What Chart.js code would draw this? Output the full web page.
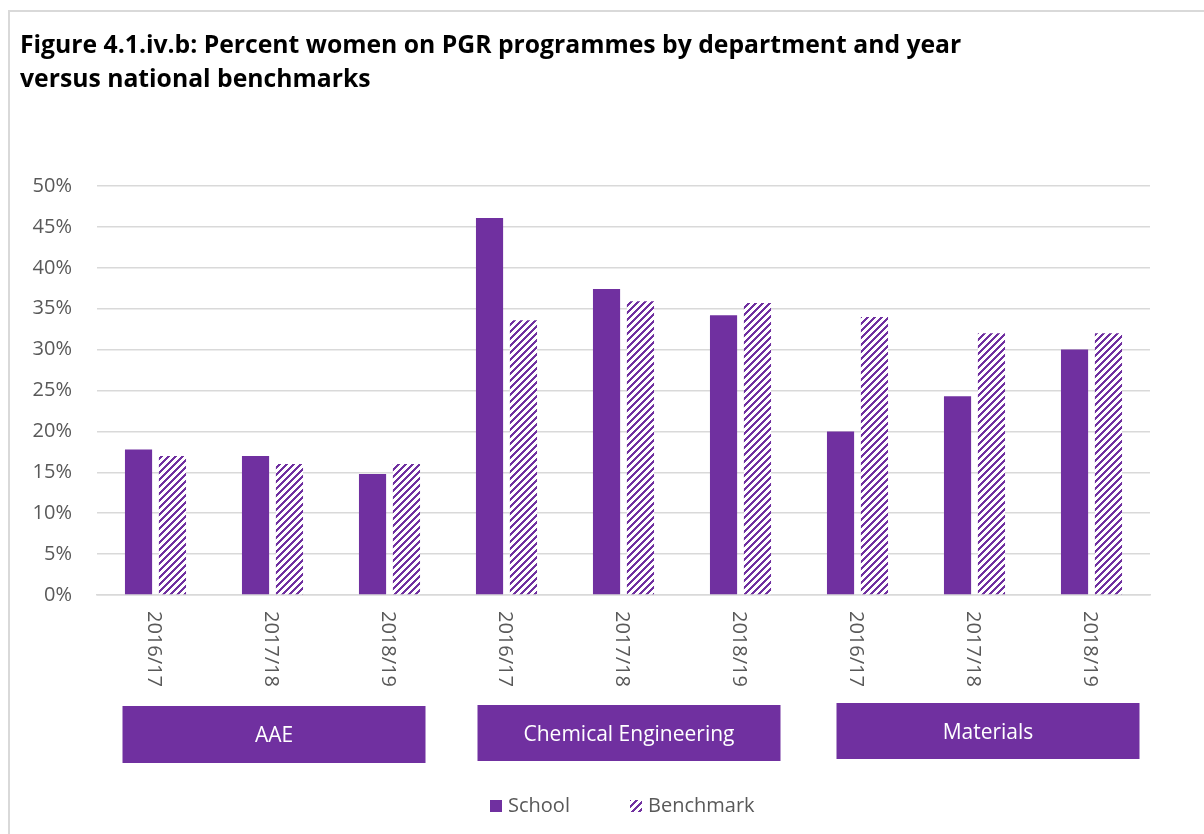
<!DOCTYPE html>
<html>
<head>
<meta charset="utf-8">
<script src="https://cdn.jsdelivr.net/npm/chart.js@4/dist/chart.umd.min.js"></script>
<style>
  html, body { margin: 0; padding: 0; background: #ffffff; }
  #wrap { width: 1204px; height: 834px; position: relative; }
</style>
</head>
<body>
<div id="wrap"><canvas id="chart" width="1204" height="834"></canvas></div>
<script>
// ---- data ----
const departments = ['AAE', 'Chemical Engineering', 'Materials'];
const years = ['2016/17', '2017/18', '2018/19'];
const schoolValues = [17.8, 17.0, 14.8, 46.1, 37.4, 34.2, 20.0, 24.3, 30.0];
const benchmarkValues = [17.0, 16.0, 16.0, 33.6, 35.9, 35.7, 34.0, 32.0, 32.0];
const yTickValues = [0, 5, 10, 15, 20, 25, 30, 35, 40, 45, 50];
const seriesNames = ['School', 'Benchmark'];
const titleLines = [
  'Figure 4.1.iv.b: Percent women on PGR programmes by department and year',
  'versus national benchmarks'
];

// one category per department/year pair
const categories = departments.flatMap(() => years);

// ---- styles ----
const PURPLE = '#7030a0';
const GRID = '#d9d9d9';
const TEXT = '#595959';
const FONT = '"Open Sans", "Liberation Sans", sans-serif';

// diagonal stripe fill for the benchmark bars
function makeStripes() {
  const s = 7;
  const c = document.createElement('canvas');
  c.width = s; c.height = s;
  const g = c.getContext('2d');
  const img = g.createImageData(s, s);
  for (let y = 0; y < s; y++) {
    for (let x = 0; x < s; x++) {
      const i = (y * s + x) * 4;
      const on = ((x + y) % s) < 3;
      img.data[i] = on ? 0x70 : 255;
      img.data[i + 1] = on ? 0x30 : 255;
      img.data[i + 2] = on ? 0xa0 : 255;
      img.data[i + 3] = 255;
    }
  }
  g.putImageData(img, 0, 0);
  return document.getElementById('chart').getContext('2d').createPattern(c, 'repeat');
}
const stripes = makeStripes();

// department label boxes under each group of three years (pixel nudges per box)
const boxNudge = [
  { l: -33, r: 36, top: 706, bottom: 763 },
  { l: -29, r: 40, top: 705, bottom: 761 },
  { l: -21, r: 48, top: 703, bottom: 759 }
];

const decorations = {
  id: 'decorations',
  afterDraw(chart) {
    const ctx = chart.ctx;
    const xs = chart.scales.x;
    ctx.save();

    // frame
    ctx.strokeStyle = GRID;
    ctx.lineWidth = 2;
    ctx.beginPath();
    ctx.moveTo(9, 840);
    ctx.lineTo(9, 11);
    ctx.lineTo(1210, 11);
    ctx.stroke();

    // title
    const target = 942;
    let size = 24;
    ctx.font = `bold ${size}px "Open Sans", sans-serif`;
    size = size * target / ctx.measureText(titleLines[0]).width;
    ctx.font = `bold ${size}px "Open Sans", sans-serif`;
    ctx.fillStyle = '#000000';
    ctx.textAlign = 'left';
    ctx.textBaseline = 'alphabetic';
    ctx.fillText(titleLines[0], 20, 53);
    ctx.fillText(titleLines[1], 20, 87);

    // rotated year labels (reading top to bottom)
    ctx.font = `20px ${FONT}`;
    ctx.fillStyle = TEXT;
    ctx.textAlign = 'left';
    ctx.textBaseline = 'middle';
    categories.forEach((lab, i) => {
      const x = xs.getPixelForValue(i);
      ctx.save();
      ctx.translate(x - 2, 611);
      ctx.rotate(Math.PI / 2);
      ctx.fillText(lab, 0, 0);
      ctx.restore();
    });

    // department boxes
    departments.forEach((dep, d) => {
      const first = xs.getPixelForValue(d * years.length);
      const last = xs.getPixelForValue(d * years.length + years.length - 1);
      const n = boxNudge[d];
      const l = first + n.l, r = last + n.r;
      ctx.fillStyle = PURPLE;
      ctx.fillRect(l, n.top, r - l, n.bottom - n.top);
      ctx.fillStyle = '#ffffff';
      ctx.font = `21px ${FONT}`;
      ctx.textAlign = 'center';
      ctx.textBaseline = 'middle';
      ctx.fillText(dep, (l + r) / 2, (n.top + n.bottom) / 2 + 2);
    });

    // legend
    ctx.font = `20px ${FONT}`;
    ctx.textAlign = 'left';
    ctx.textBaseline = 'middle';
    const ly = 806;
    const items = [
      { name: seriesNames[0], fill: PURPLE, x: 490 },
      { name: seriesNames[1], fill: stripes, x: 630 }
    ];
    items.forEach(it => {
      ctx.fillStyle = it.fill;
      ctx.fillRect(it.x, ly - 6, 12, 12);
      ctx.fillStyle = TEXT;
      ctx.fillText(it.name, it.x + 18, ly);
    });

    ctx.restore();
  }
};

new Chart(document.getElementById('chart'), {
  type: 'bar',
  data: {
    labels: categories,
    datasets: [
      {
        label: seriesNames[0],
        data: schoolValues,
        backgroundColor: PURPLE,
        borderWidth: 0,
        categoryPercentage: 0.58,
        barPercentage: 0.8
      },
      {
        label: seriesNames[1],
        data: benchmarkValues,
        backgroundColor: stripes,
        borderWidth: 0,
        categoryPercentage: 0.58,
        barPercentage: 0.8
      }
    ]
  },
  options: {
    responsive: false,
    animation: false,
    devicePixelRatio: 1,
    layout: { padding: { top: 186, right: 54, left: 0, bottom: 0 } },
    plugins: {
      legend: { display: false },
      title: { display: false },
      tooltip: { enabled: false }
    },
    scales: {
      x: {
        grid: { display: false, drawTicks: false },
        border: { display: true, color: GRID, width: 1.5 },
        ticks: { display: false },
        afterFit(scale) { scale.height = 239; }
      },
      y: {
        min: yTickValues[0],
        max: yTickValues[yTickValues.length - 1],
        afterBuildTicks(scale) { scale.ticks = yTickValues.map(v => ({ value: v })); },
        grid: { color: GRID, lineWidth: 1.5, drawTicks: false },
        border: { display: false },
        ticks: {
          padding: 25,
          color: TEXT,
          font: { family: FONT, size: 20 },
          callback: v => v + '%'
        },
        afterFit(scale) { scale.width = 97; }
      }
    }
  },
  plugins: [decorations]
});
</script>
</body>
</html>
